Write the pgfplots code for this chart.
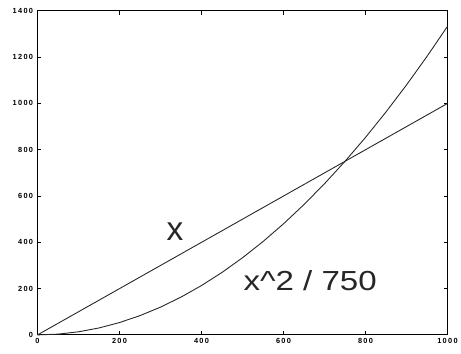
\documentclass[border=0pt]{standalone}
\usepackage{pgfplots}
\pgfplotsset{compat=1.18}
\usepackage{fontspec}
\setmainfont{Liberation Sans}
\newfontfamily\tickfont[LetterSpace=18]{Liberation Sans}
\begin{document}
\begin{tikzpicture}[x=1bp,y=1bp]
\begin{axis}[
  scale only axis,
  width=415bp, height=328bp,
  xmin=0, xmax=1000, ymin=0, ymax=1400,
  xtick={0,200,...,1000}, ytick={0,200,...,1400},
  tick align=inside,
  major tick length=4bp,
  tick style={line width=1pt, black},
  axis line style={line width=1.2pt},
  tick label style={font=\tickfont\fontsize{7.5}{8}\selectfont\bfseries},
  /pgf/number format/assume math mode=true,
  /pgf/number format/1000 sep={},
  xticklabel style={yshift=0bp},
  yticklabel style={xshift=-1bp},
  clip=false,
]
\addplot[black!85, line width=0.9pt] coordinates {(0,0) (1000,1000)};
\addplot[black!85, line width=0.9pt] coordinates {
(0,0) (50,3.333) (100,13.333) (150,30) (200,53.333) (250,83.333) (300,120)
(350,163.333) (400,213.333) (450,270) (500,333.333) (550,403.333) (600,480)
(650,563.333) (700,653.333) (750,750) (800,853.333) (850,963.333) (900,1080)
(950,1203.333) (1000,1333.333)};
\node[font=\fontsize{34}{36}\selectfont, black!85] at (axis cs:335,446) {x};
\node[font=\fontsize{28}{30}\selectfont, black!85, xscale=1.2] at (axis cs:665,236) {x\textasciicircum2 / 750};
\end{axis}
\useasboundingbox (-38,-19) rectangle (423,339);
\end{tikzpicture}
\end{document}
